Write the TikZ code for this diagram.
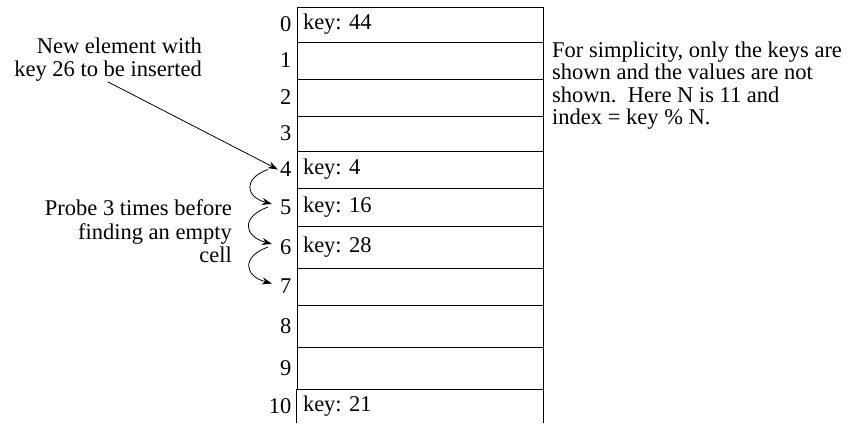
\documentclass[tikz,border=0pt]{standalone}
\usepackage{fontspec}
\setmainfont{Liberation Serif}
\usetikzlibrary{arrows.meta, positioning}

\begin{document}
\frenchspacing
\begin{tikzpicture}[x=1pt, y=1pt,
                    every node/.style={font=\rmfamily\fontsize{22.5}{23.5}\selectfont},
                    cell/.style={rectangle, draw, line width=0.8pt, minimum width=246pt, text width=234pt, inner xsep=6pt, inner ysep=0pt, align=left},
                    index/.style={inner sep=0pt},
                    note/.style={inner sep=0pt},
                    probe_arrow/.style={-{Stealth[length=10pt, width=7pt]}, line width=0.8pt}]

    \useasboundingbox (0,0) rectangle (848,-423);

    \node[cell, minimum height=35pt] (c0)  at (420,-24.5) {key: 44};
    \node[cell, minimum height=37pt] (c1)  at (420,-60.5) {};
    \node[cell, minimum height=37pt] (c2)  at (420,-97.5) {};
    \node[cell, minimum height=35pt] (c3)  at (420,-133.5) {};
    \node[cell, minimum height=37pt] (c4)  at (420,-169.5) {key: 4};
    \node[cell, minimum height=38pt] (c5)  at (420,-207) {key: 16};
    \node[cell, minimum height=42pt] (c6)  at (420,-247) {key: 28};
    \node[cell, minimum height=37pt] (c7)  at (420,-286.5) {};
    \node[cell, minimum height=42pt] (c8)  at (420,-326) {};
    \node[cell, minimum height=42pt] (c9)  at (420,-368) {};
    \node[cell, draw=none, minimum height=34pt] (c10) at (420,-406) {key: 21};

    \draw[line width=0.8pt] (c10.north west) -- (c10.south west);
    \draw[line width=0.8pt] (c10.north east) -- (c10.south east);

    \node[index, left=5pt of c0]  (i0)  {0};
    \node[index, left=5pt of c1]  (i1)  {1};
    \node[index, left=5pt of c2]  (i2)  {2};
    \node[index, left=5pt of c3]  (i3)  {3};
    \node[index, left=5pt of c4]  (i4)  {4};
    \node[index, left=5pt of c5]  (i5)  {5};
    \node[index, left=5pt of c6]  (i6)  {6};
    \node[index, left=5pt of c7]  (i7)  {7};
    \node[index, left=5pt of c8]  (i8)  {8};
    \node[index, left=5pt of c9]  (i9)  {9};
    \node[index, left=5pt of c10] (i10) {10};

    \node[note, anchor=north east, align=right] (new) at (202,-37.6) {New element with\\key 26 to be inserted};
    \node[note, anchor=north east, align=right] (probe) at (232,-199.5) {Probe 3 times before\\finding an empty\\cell};
    \node[note, anchor=north west, align=left, font=\rmfamily\fontsize{22.5}{22.5}\selectfont] (info) at (552,-41.5)
        {For simplicity, only the keys are\\shown and the values are not\\shown.\ \ Here N is 11 and\\index = key \% N.};

    \draw[probe_arrow] (new.south) -- ([xshift=-2pt]i4.west);
    \draw[probe_arrow] ([xshift=-12pt]i4.west) to[out=200, in=165, looseness=2] ([xshift=-8pt, yshift=3pt]i5.west);
    \draw[probe_arrow] ([xshift=-12pt]i5.west) to[out=200, in=165, looseness=2] ([xshift=-8pt, yshift=3pt]i6.west);
    \draw[probe_arrow] ([xshift=-12pt]i6.west) to[out=200, in=165, looseness=2] ([xshift=-8pt, yshift=3pt]i7.west);
\end{tikzpicture}
\end{document}
